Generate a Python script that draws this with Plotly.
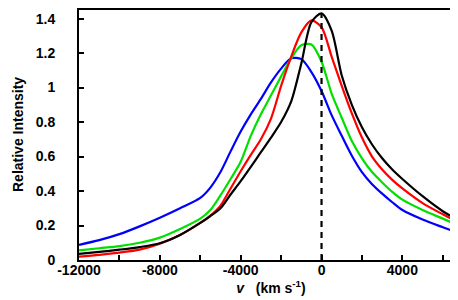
import plotly.graph_objects as go

velocity = [-12000, -11000, -10000, -9000, -8000, -7000, -6000, -5500, -5000, -4500,
            -4000, -3500, -3000, -2500, -2000, -1500, -1000, -500, 0, 500,
            1000, 1500, 2000, 2500, 3000, 3500, 4000, 5000, 6000, 7000]

black = [0.035, 0.047, 0.060, 0.075, 0.097, 0.145, 0.215, 0.255, 0.300, 0.380,
         0.457, 0.540, 0.625, 0.710, 0.800, 0.920, 1.140, 1.380, 1.430, 1.330,
         1.070, 0.900, 0.770, 0.670, 0.590, 0.525, 0.470, 0.370, 0.283, 0.215]

red = [0.020, 0.030, 0.043, 0.060, 0.095, 0.145, 0.215, 0.257, 0.315, 0.415,
       0.515, 0.610, 0.700, 0.820, 1.010, 1.180, 1.320, 1.390, 1.350, 1.180,
       1.010, 0.850, 0.710, 0.600, 0.525, 0.465, 0.415, 0.330, 0.265, 0.205]

green = [0.056, 0.068, 0.080, 0.100, 0.130, 0.180, 0.240, 0.290, 0.375, 0.470,
         0.570, 0.720, 0.845, 0.955, 1.065, 1.170, 1.245, 1.250, 1.150, 0.965,
         0.825, 0.690, 0.590, 0.510, 0.450, 0.395, 0.350, 0.290, 0.240, 0.190]

blue = [0.088, 0.115, 0.150, 0.195, 0.245, 0.300, 0.360, 0.420, 0.510, 0.630,
        0.745, 0.845, 0.935, 1.030, 1.110, 1.170, 1.165, 1.090, 0.980, 0.840,
        0.720, 0.605, 0.510, 0.440, 0.385, 0.335, 0.290, 0.235, 0.190, 0.147]

x_tickvals = [-12000, -8000, -4000, 0, 4000]
x_ticktext = ["-12000", "-8000", "-4000", "0", "4000"]
y_tickvals = [0, 0.2, 0.4, 0.6, 0.8, 1.0, 1.2, 1.4]
y_ticktext = ["0", "0.2", "0.4", "0.6", "0.8", "1", "1.2", "1.4"]
y_title = "Relative Intensity"

series = [("blue", blue, "#0000FF"), ("green", green, "#00E000"),
          ("red", red, "#FF0000"), ("black", black, "#000000")]

line_top = 1.43

fig = go.Figure()
for name, vals, col in series:
    fig.add_trace(go.Scatter(x=velocity, y=vals, mode="lines", name=name,
                             line=dict(color=col, width=2.2, shape="spline", smoothing=0.8),
                             showlegend=False))

fig.add_trace(go.Scatter(x=[0, 0], y=[0, line_top], mode="lines", showlegend=False,
                         line=dict(color="black", width=2.2, dash="6px,5px")))

font_fam = "Liberation Sans, Arial, sans-serif"
fig.update_layout(
    width=458, height=300,
    margin=dict(l=71, r=3, t=2, b=48),
    paper_bgcolor="white", plot_bgcolor="white",
    font=dict(family=font_fam, size=14, color="black", weight="bold"),
    xaxis=dict(range=[-12000, 7000], tickvals=x_tickvals, ticktext=x_ticktext,
               automargin=False,
               ticks="inside", ticklen=5, tickwidth=1.5, tickcolor="black",
               minor=dict(dtick=2000, tick0=-12000, ticks="inside", ticklen=5,
                          tickwidth=1.5, tickcolor="black"),
               showline=True, linewidth=2, linecolor="black", mirror=True,
               showgrid=False, zeroline=False,
               tickfont=dict(size=14, weight="bold"), ticklabelstandoff=-4,
               title=dict(text="<i>v</i>   (km s<sup>-1</sup>)", font=dict(size=14, weight="bold"),
                          standoff=2)),
    yaxis=dict(range=[0, 1.45], tickvals=y_tickvals, ticktext=y_ticktext,
               automargin=False,
               ticks="inside", ticklen=5, tickwidth=1.5, tickcolor="black",
               showline=True, linewidth=2, linecolor="black", mirror=True,
               showgrid=False, zeroline=False,
               tickfont=dict(size=14, weight="bold"), ticklabelstandoff=19),
)

fig.add_annotation(text=y_title, xref="paper", yref="paper",
                   x=(10 - 71) / 384, y=0.5, xanchor="center", yanchor="middle",
                   textangle=-90, showarrow=False,
                   font=dict(family=font_fam, size=14, color="black", weight="bold"))

fig.write_html("out.html")
